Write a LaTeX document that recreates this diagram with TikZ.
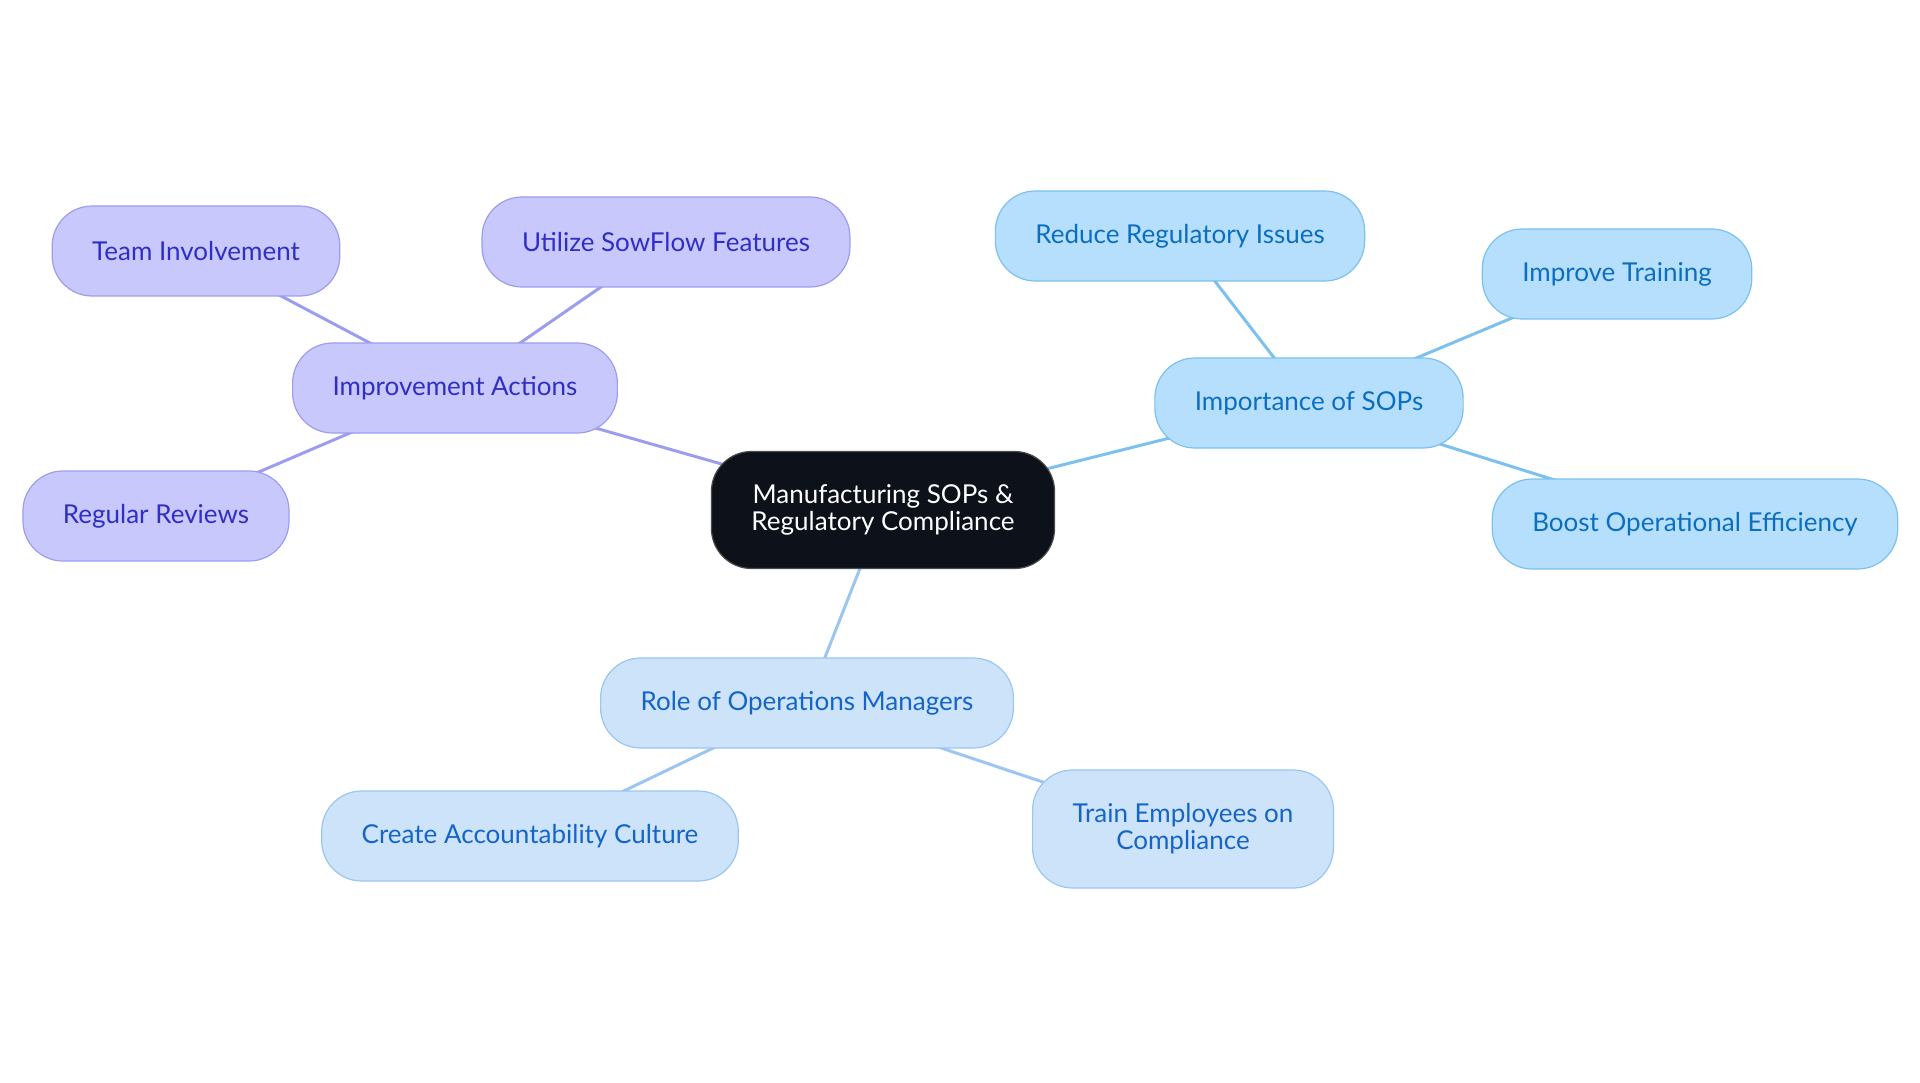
\documentclass[tikz,border=0pt]{standalone}
\usepackage{fontspec}
\setmainfont{Lato}
\usepackage{tikz}
\usetikzlibrary{positioning, backgrounds}
\usepackage{xcolor}
\definecolor{rootfill}{RGB}{12,17,26}
\definecolor{purplefill}{RGB}{200,200,252}
\definecolor{purpleline}{RGB}{157,157,240}
\definecolor{purpletext}{RGB}{47,47,196}
\definecolor{skyfill}{RGB}{181,223,253}
\definecolor{skyline}{RGB}{124,192,240}
\definecolor{skytext}{RGB}{12,110,191}
\definecolor{palefill}{RGB}{205,227,250}
\definecolor{paleline}{RGB}{156,197,240}
\definecolor{paletext}{RGB}{21,101,200}
\tikzset{
  basebox/.style={
    rectangle, rounded corners=40pt, align=center, line width=1.2pt,
    font=\fontsize{26}{27}\selectfont, inner xsep=40pt, minimum height=90pt
  },
  rootbox/.style={basebox, fill=rootfill, draw=black!70, text=white, minimum height=117pt},
  purplebox/.style={basebox, fill=purplefill, draw=purpleline, text=purpletext},
  skybox/.style={basebox, fill=skyfill, draw=skyline, text=skytext},
  palebox/.style={basebox, fill=palefill, draw=paleline, text=paletext},
  purpleedge/.style={line width=3pt, color=purpleline},
  skyedge/.style={line width=3pt, color=skyline},
  paleedge/.style={line width=3pt, color=paleline}
}

\begin{document}
\begin{tikzpicture}[x=1pt, y=-1pt]
  \useasboundingbox (0,0) rectangle (1920,1083);
  \node[rootbox] (root) at (883,510) {Manufacturing SOPs \&\\Regulatory Compliance};

  \node[purplebox] (improve) at (455,388) {Improvement Actions};
  \node[purplebox] (team) at (196,251) {Team Involvement};
  \node[purplebox] (sowflow) at (666,242) {Utilize SowFlow Features};
  \node[purplebox] (reviews) at (156,516) {Regular Reviews};

  \node[skybox] (sops) at (1309,403) {Importance of SOPs};
  \node[skybox] (reduce) at (1180,236) {Reduce Regulatory Issues};
  \node[skybox] (training) at (1617,274) {Improve Training};
  \node[skybox] (boost) at (1695,524) {Boost Operational Efficiency};

  \node[palebox] (role) at (807,703) {Role of Operations Managers};
  \node[palebox] (culture) at (530,836) {Create Accountability Culture};
  \node[palebox, minimum height=118pt] (employees) at (1183,829) {Train Employees on\\Compliance};

  \begin{scope}[on background layer]
    \draw[purpleedge] (root.center) -- (improve.center);
    \draw[purpleedge] (improve.center) -- (team.center);
    \draw[purpleedge] (improve.center) -- (sowflow.center);
    \draw[purpleedge] (improve.center) -- (reviews.center);
    \draw[skyedge] (root.center) -- (sops.center);
    \draw[skyedge] (sops.center) -- (reduce.center);
    \draw[skyedge] (sops.center) -- (training.center);
    \draw[skyedge] (sops.center) -- (boost.center);
    \draw[paleedge] (root.center) -- (role.center);
    \draw[paleedge] (role.center) -- (culture.center);
    \draw[paleedge] (role.center) -- (employees.center);
  \end{scope}
\end{tikzpicture}
\end{document}
